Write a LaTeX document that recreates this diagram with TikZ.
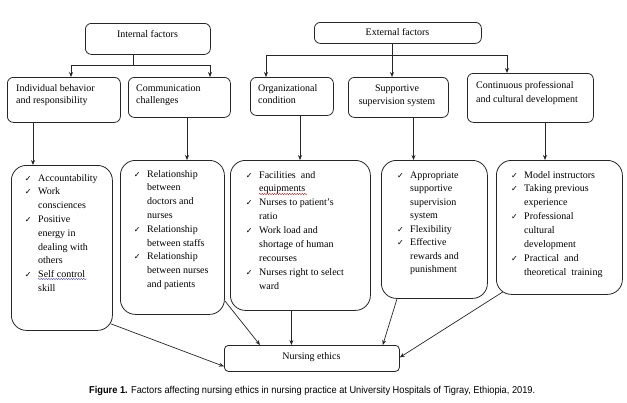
\documentclass[tikz,border=0pt]{standalone}
\usepackage{fontspec}
\setmainfont{Liberation Serif}
\newfontfamily\ckfont{DejaVu Sans}
\newfontfamily\capfont{Liberation Sans}
\usetikzlibrary{arrows.meta,decorations.pathmorphing}
\newcommand\ck{\makebox[0pt][r]{{\ckfont\fontsize{8}{8}\selectfont ✓}\hspace{6.5pt}}}
\begin{document}
\begin{tikzpicture}[x=1pt,y=-1pt,
  box/.style={draw=black!85, line width=0.8pt, rounded corners=6pt, inner sep=0pt, anchor=north west},
  listbox/.style={box, rounded corners=15pt},
  txt/.style={inner sep=0pt, anchor=base west, font=\fontsize{10}{13.8}\selectfont},
  arr/.style={draw=black!85, line width=0.7pt, -{Stealth[length=5pt,width=4pt]}},
  ln/.style={draw=black!85, line width=0.7pt},
  wavy/.style={line width=0.4pt, decorate, decoration={snake, amplitude=0.6pt, segment length=2.5pt}}]
\useasboundingbox (0,0) rectangle (627,402);
\fill[white] (0,0) rectangle (627,402);

% top boxes
\node[box, minimum width=125pt, minimum height=31pt] (int) at (85,23) {};
\node[txt, anchor=base] (intT) at (147.5,37) {Internal  factors};
\node[box, minimum width=167pt, minimum height=21pt] (ext) at (314,22) {};
\node[txt, anchor=base] (extT) at (397.5,35.5) {External  factors};

% second level
\node[box, minimum width=113pt, minimum height=45pt] (ind) at (7,77) {};
\node[txt, font=\fontsize{10}{12}\selectfont] (indT) at (16,91) {\begin{tabular}[t]{@{}l@{}}Individual behavior\\and responsibility\end{tabular}};
\node[box, minimum width=102pt, minimum height=40pt] (com) at (128,77) {};
\node[txt, font=\fontsize{10}{12}\selectfont] (comT) at (136,91) {\begin{tabular}[t]{@{}l@{}}Communication\\challenges\end{tabular}};
\node[box, minimum width=83pt, minimum height=38pt] (org) at (250,77) {};
\node[txt, font=\fontsize{10}{12}\selectfont] (orgT) at (258,91) {\begin{tabular}[t]{@{}l@{}}Organizational\\condition\end{tabular}};
\node[box, minimum width=100pt, minimum height=40pt] (sup) at (348,77) {};
\node[txt, anchor=base, font=\fontsize{10}{13.5}\selectfont] (supT) at (397,91) {\begin{tabular}[t]{@{}c@{}}Supportive\\supervision system\end{tabular}};
\node[box, minimum width=126pt, minimum height=49pt] (con) at (467,73) {};
\node[txt, font=\fontsize{10}{14}\selectfont] (conT) at (476,88) {\begin{tabular}[t]{@{}l@{}}Continuous professional\\and cultural  development\end{tabular}};

% list boxes
\node[listbox, minimum width=101pt, minimum height=165pt] (l1) at (11,165) {};
\node[txt] (l1T) at (38,181) {\begin{tabular}[t]{@{}l@{}}\ck Accountability\\\ck Work\\consciences\\\ck Positive\\energy in\\dealing with\\others\\\ck Self control\\skill\end{tabular}};
\node[listbox, minimum width=104pt, minimum height=154pt] (l2) at (120,160) {};
\node[txt] (l2T) at (147,177) {\begin{tabular}[t]{@{}l@{}}\ck Relationship\\between\\doctors and\\nurses\\\ck Relationship\\between staffs\\\ck Relationship\\between nurses\\and patients\end{tabular}};
\node[listbox, minimum width=140pt, minimum height=150pt] (l3) at (230,160) {};
\node[txt, font=\fontsize{10}{13.9}\selectfont] (l3T) at (259,178) {\begin{tabular}[t]{@{}l@{}}\ck Facilities\ \ and\\equipments\\\ck Nurses to patient’s\\ratio\\\ck Work load and\\shortage of human\\recourses\\\ck Nurses right to select\\ward\end{tabular}};
\node[listbox, minimum width=106pt, minimum height=138pt] (l4) at (381,160) {};
\node[txt, font=\fontsize{10}{13.5}\selectfont] (l4T) at (410,178) {\begin{tabular}[t]{@{}l@{}}\ck Appropriate\\supportive\\supervision\\system\\\ck Flexibility\\\ck Effective\\rewards and\\punishment\end{tabular}};
\node[listbox, minimum width=126pt, minimum height=134pt] (l5) at (496,160) {};
\node[txt, font=\fontsize{10}{13.9}\selectfont] (l5T) at (524,178) {\begin{tabular}[t]{@{}l@{}}\ck Model instructors\\\ck Taking previous\\experience\\\ck Professional\\cultural\\development\\\ck Practical\ \ and\\theoretical\ \ training\end{tabular}};

% spell-check underlines
\draw[wavy, red!80!black] (259,194) -- (307,194);
\draw[wavy, blue!50!gray] (38,279) -- (87,279);

% bottom box
\node[box, rounded corners=4pt, minimum width=175pt, minimum height=26pt] (ne) at (224,345) {};
\node[txt, anchor=base] (neT) at (311.5,359) {Nursing ethics};

% caption
\node[inner sep=0pt, anchor=base west] (cap) at (89,393) {\resizebox{446pt}{\height}{\capfont\fontsize{10}{12}\selectfont\textbf{Figure 1.} Factors affecting nursing ethics in nursing practice at University Hospitals of Tigray, Ethiopia, 2019.}};

% connectors: internal
\coordinate (ij) at (133,65);
\coordinate (il) at (71,65);
\coordinate (ir) at (210,65);
\draw[ln] (int.south -| ij) -- (ij);
\draw[ln] (il) -- (ir);
\draw[arr] (il) -- (il |- ind.north);
\draw[arr] (ir) -- (ir |- com.north);
% external
\coordinate (ej) at (392,55);
\coordinate (el) at (266,55);
\coordinate (er) at (507,55);
\draw[arr] (ext.south -| ej) -- (ej |- sup.north);
\draw[ln] (el) -- (er);
\draw[arr] (el) -- (el |- org.north);
\draw[arr] (er) -- (er |- con.north);
% middle
\coordinate (m1) at (33,0);
\coordinate (m2) at (187,0);
\coordinate (m3) at (300,0);
\coordinate (m4) at (413.5,0);
\coordinate (m5) at (545,0);
\draw[arr] (ind.south -| m1) -- (l1.north -| m1);
\draw[arr] (com.south -| m2) -- (l2.north -| m2);
\draw[arr] (org.south -| m3) -- (l3.north -| m3);
\draw[arr] (sup.south -| m4) -- (l4.north -| m4);
\draw[arr] (con.south -| m5) -- (l5.north -| m5);
% to nursing ethics
\draw[arr] ([xshift=-2pt,yshift=7pt]l1.south east) -- ([yshift=-8pt]ne.west);
\draw[arr] ([yshift=14pt]l2.south east) -- ([xshift=36pt]ne.north west);
\draw[arr] ([xshift=-9pt]l3.south) -- ([xshift=-9pt]l3.south |- ne.north);
\draw[arr] ([xshift=16pt]l4.south west) -- ([xshift=-17pt]ne.north east);
\draw[arr] ([xshift=7pt,yshift=3pt]l5.south west) -- ([yshift=1pt]ne.east);
\end{tikzpicture}
\end{document}
